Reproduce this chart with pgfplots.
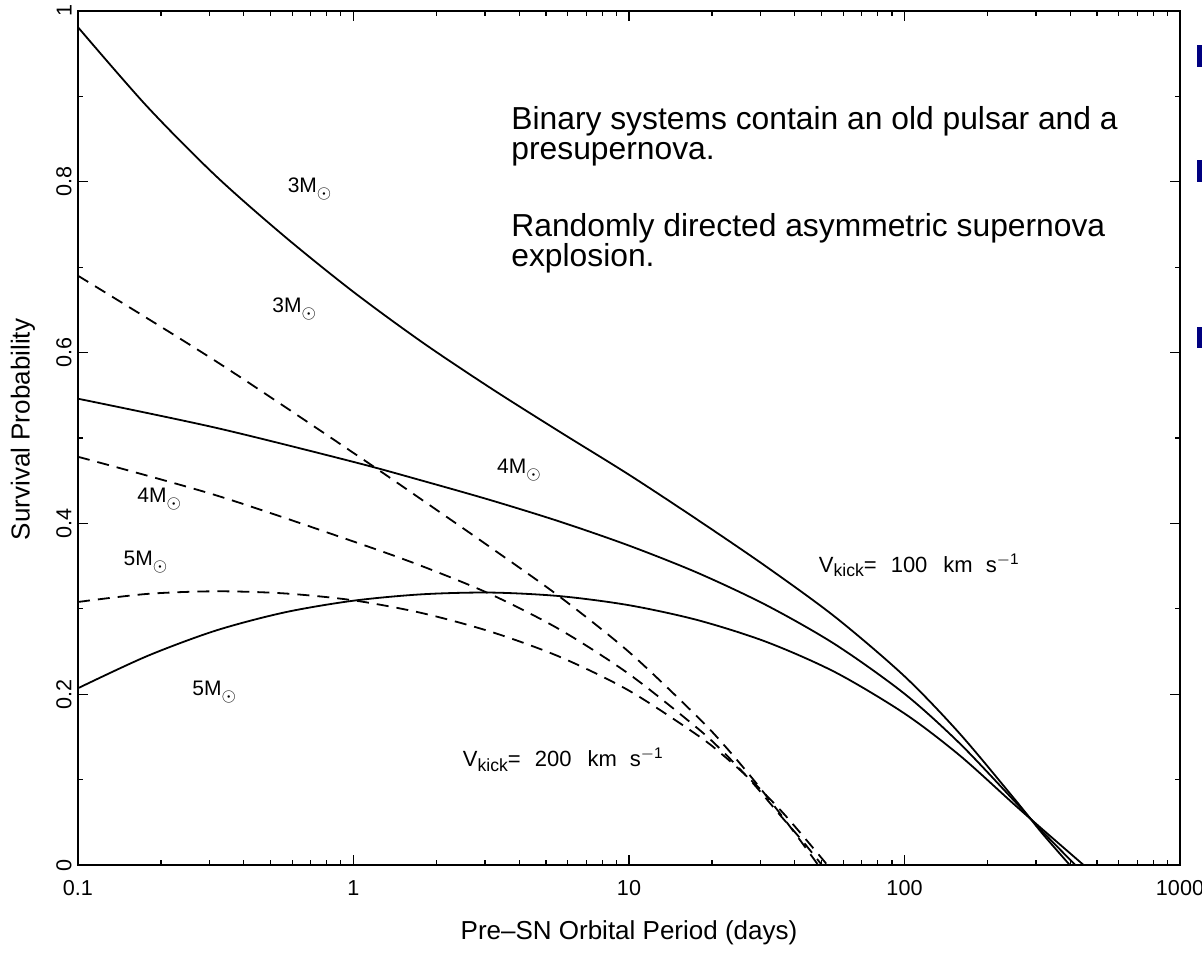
\documentclass[border=0pt]{standalone}
\usepackage{pgfplots}
\pgfplotsset{compat=1.18}
\usepackage{pgfplotstable}
\usepackage{fontspec}
\setmainfont{Liberation Sans}
\definecolor{navybullet}{RGB}{0,0,128}

% V_kick = 100 km/s (solid)
\pgfplotstableread{
x y
0.1 0.981
0.1778 0.8885
0.3162 0.807
0.5623 0.736
1 0.671
1.778 0.612
3.162 0.558
5.623 0.507
10 0.457
17.78 0.404
31.62 0.349
56.23 0.290
100 0.221
158.5 0.154
251.2 0.077
316.2 0.037
398.1 0.0
}\sthree
\pgfplotstableread{
x y
0.1 0.546
0.3162 0.512
1 0.472
1.778 0.450
3.162 0.427
5.623 0.402
10 0.374
17.78 0.342
31.62 0.304
56.23 0.258
100 0.2005
158.5 0.1425
251.2 0.0745
316.2 0.0395
416.9 0.0
}\sfour
\pgfplotstableread{
x y
0.1 0.207
0.1778 0.2445
0.3162 0.2745
0.5623 0.2958
1 0.3095
1.778 0.317
3.162 0.319
5.623 0.3148
10 0.3042
17.78 0.2867
31.62 0.2611
56.23 0.2255
100 0.1774
158.5 0.1284
251.2 0.0704
316.2 0.042
446.7 0.0
}\sfive
% V_kick = 200 km/s (dashed)
\pgfplotstableread{
x y
0.1 0.690
0.3162 0.590
1 0.4825
1.778 0.4273
3.162 0.3713
5.623 0.3138
10 0.2494
17.78 0.1731
22.39 0.1386
28.18 0.1006
35.48 0.0596
41.69 0.0295
48.6 0.0
}\dthree
\pgfplotstableread{
x y
0.1 0.478
0.3162 0.433
1 0.3788
1.778 0.3498
3.162 0.3167
5.623 0.2755
10 0.2236
17.78 0.1598
22.39 0.1298
28.18 0.0958
35.48 0.0578
42.66 0.028
50.12 0.0
}\dfour
\pgfplotstableread{
x y
0.1 0.308
0.1778 0.3174
0.3162 0.3205
0.5623 0.318
1 0.3099
1.778 0.2949
3.162 0.273
5.623 0.2436
10 0.2042
17.78 0.1517
22.39 0.1262
28.18 0.0972
35.48 0.0642
42.66 0.0346
52.48 0.0
}\dfive

\newcommand{\Msun}[1]{#1M\raisebox{-3pt}{\fontsize{9.5pt}{9.5pt}\selectfont$\odot$}}
\newcommand{\Vkick}[1]{V\raisebox{-2.2pt}{\fontsize{8.8pt}{9pt}\selectfont kick}=\hspace{7pt}#1\hspace{8pt}km\hspace{6.5pt}s\textsuperscript{$-$1}}

\begin{document}
\begin{tikzpicture}
\path[use as bounding box] (0,0) rectangle (601pt,479pt);
\begin{axis}[
  at={(39pt,46.5pt)}, anchor=south west,
  scale only axis, width=551pt, height=427pt,
  xmode=log, xmin=0.1, xmax=1000, ymin=0, ymax=1,
  xtick={0.1,1,10,100,1000}, xticklabels={0.1,1,10,100,1000},
  minor xtick={0.2,0.3,0.4,0.5,0.6,0.7,0.8,0.9,2,3,4,5,6,7,8,9,20,30,40,50,60,70,80,90,200,300,400,500,600,700,800,900},
  ytick={0,0.2,0.4,0.6,0.8,1}, yticklabels={0,0.2,0.4,0.6,0.8,1},
  minor ytick={0.1,0.3,0.5,0.7,0.9},
  /pgf/number format/assume math mode=true,
  tick pos=both, tick align=inside,
  major tick length=5pt, minor tick length=2.5pt,
  every tick/.style={black, line width=0.6pt},
  axis line style={line width=0.65pt},
  tick label style={font=\fontsize{10.8pt}{12pt}\selectfont},
  xticklabel style={anchor=north, inner sep=0pt, yshift=-7.5pt},
  yticklabel style={rotate=90, anchor=south, inner sep=0pt, yshift=3pt},
  label style={font=\fontsize{13pt}{15pt}\selectfont},
  xlabel={Pre--SN Orbital Period (days)},
  ylabel={Survival Probability},
  xlabel style={at={(axis description cs:0.5,0)}, anchor=center, yshift=-34pt},
  ylabel style={at={(axis description cs:0,0.51)}, anchor=center, yshift=27.5pt},
]
\addplot[black, line width=0.9pt, smooth] table {\sthree};
\addplot[black, line width=0.9pt, smooth] table {\sfour};
\addplot[black, line width=0.9pt, smooth] table {\sfive};
\addplot[black, line width=0.9pt, smooth, dash pattern=on 6pt off 4pt] table {\dthree};
\addplot[black, line width=0.9pt, smooth, dash pattern=on 6pt off 4pt] table {\dfour};
\addplot[black, line width=0.9pt, smooth, dash pattern=on 6pt off 4pt] table {\dfive};

\begin{scope}[every node/.style={anchor=base west, inner sep=0pt, font=\fontsize{10.5pt}{12pt}\selectfont}]
\node at (rel axis cs:0.190,0.788) {\Msun{3}};
\node at (rel axis cs:0.176,0.6475) {\Msun{3}};
\node at (rel axis cs:0.0535,0.425) {\Msun{4}};
\node at (rel axis cs:0.041,0.351) {\Msun{5}};
\node at (rel axis cs:0.1034,0.199) {\Msun{5}};
\node at (rel axis cs:0.380,0.459) {\Msun{4}};
\end{scope}
\begin{scope}[every node/.style={anchor=base west, inner sep=0pt, font=\fontsize{11pt}{12pt}\selectfont}]
\node at (rel axis cs:0.672,0.343) {\Vkick{100}};
\node at (rel axis cs:0.349,0.115) {\Vkick{200}};
\end{scope}
\end{axis}

\begin{scope}[every node/.style={anchor=base west, inner sep=0pt, font=\fontsize{15.9pt}{15pt}\selectfont}]
\node at (255.5pt,414pt) {Binary systems contain an old pulsar and a};
\node at (255.5pt,399pt) {presupernova.};
\node at (255.5pt,360.5pt) {Randomly directed asymmetric supernova};
\node at (255.5pt,345.5pt) {explosion.};
\end{scope}

\fill[navybullet] (598.5pt,445.5pt) rectangle (610pt,456.5pt);
\fill[navybullet] (598.5pt,388pt) rectangle (610pt,399pt);
\fill[navybullet] (598.5pt,305pt) rectangle (610pt,315.5pt);
\end{tikzpicture}
\end{document}
